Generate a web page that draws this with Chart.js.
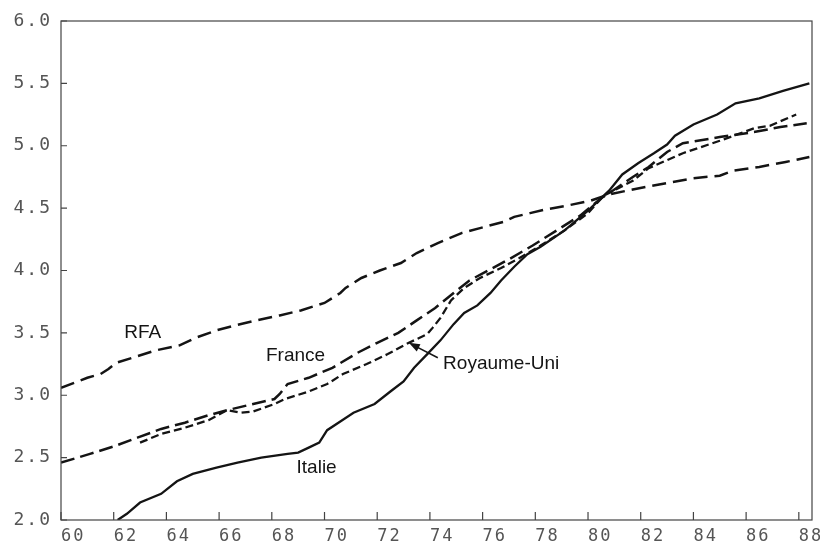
<!DOCTYPE html>
<html><head><meta charset="utf-8">
<script src="https://cdn.jsdelivr.net/npm/chart.js@4.4.1/dist/chart.umd.min.js"></script>
<style>html,body{margin:0;padding:0;background:#fff}#wrap{width:820px;height:549px;position:relative}</style>
</head><body><div id="wrap"><canvas id="c"></canvas></div>
<script>
// ---- data ----
const xTicks = [60,62,64,66,68,70,72,74,76,78,80,82,84,86,88];
const yTicks = [2.0,2.5,3.0,3.5,4.0,4.5,5.0,5.5,6.0];

const rfaYears  = [60.0,60.5,61.0,61.5,61.8,62.1,62.7,63.6,64.5,65.1,65.9,66.6,67.4,68.3,69.1,70.0,70.6,70.8,71.4,72.1,72.9,73.5,74.3,75.2,75.9,76.8,77.2,77.8,78.4,79.2,80.1,80.8,81.7,82.7,84.0,85.0,85.5,86.5,87.5,88.4];
const rfaValues = [3.06,3.10,3.14,3.17,3.21,3.26,3.30,3.36,3.40,3.46,3.52,3.56,3.60,3.64,3.68,3.74,3.82,3.86,3.94,4.00,4.06,4.14,4.22,4.30,4.34,4.39,4.43,4.46,4.49,4.52,4.56,4.61,4.65,4.69,4.74,4.76,4.80,4.83,4.87,4.91];

const franceYears  = [60.0,61.1,62.0,62.9,63.8,64.7,65.6,66.3,67.1,68.1,68.3,68.6,69.4,70.3,71.25,72.0,72.8,73.5,74.2,74.9,75.5,76.3,77.0,77.9,78.8,79.7,80.5,80.8,81.7,82.3,83.0,83.6,85.0,86.3,87.3,88.3];
const franceValues = [2.46,2.53,2.59,2.66,2.73,2.78,2.84,2.88,2.92,2.97,3.01,3.09,3.14,3.22,3.34,3.42,3.50,3.60,3.70,3.82,3.92,4.01,4.09,4.20,4.32,4.44,4.58,4.62,4.75,4.83,4.95,5.02,5.07,5.11,5.15,5.18];

const ukYears  = [63.0,63.8,64.7,65.6,66.3,66.8,67.3,68.1,68.5,69.4,70.1,70.7,71.6,72.4,73.1,73.9,74.1,74.4,74.8,75.3,75.9,76.7,77.4,78.2,79.1,80.0,80.6,81.7,82.3,83.6,85.0,86.3,86.9,87.9];
const ukValues = [2.62,2.69,2.74,2.80,2.88,2.86,2.87,2.93,2.97,3.03,3.09,3.17,3.25,3.33,3.41,3.49,3.54,3.62,3.76,3.86,3.94,4.02,4.10,4.20,4.32,4.46,4.60,4.72,4.82,4.94,5.04,5.14,5.16,5.25];

const italyYears  = [62.15,62.5,63.0,63.8,64.4,65.0,65.9,66.7,67.6,68.6,69.0,69.4,69.8,70.1,70.6,71.1,71.9,72.5,73.0,73.4,73.9,74.4,74.9,75.3,75.8,76.3,76.7,77.2,77.7,78.2,79.1,80.0,80.8,81.3,81.9,82.5,83.0,83.3,84.0,84.9,85.6,86.5,87.4,88.4];
const italyValues = [2.00,2.05,2.14,2.21,2.31,2.37,2.42,2.46,2.50,2.53,2.54,2.58,2.62,2.72,2.79,2.86,2.93,3.03,3.11,3.22,3.33,3.44,3.57,3.66,3.72,3.82,3.92,4.03,4.13,4.19,4.32,4.48,4.64,4.77,4.86,4.94,5.01,5.08,5.17,5.25,5.34,5.38,5.44,5.50];

// annotations in data coordinates
const noteTexts = ['RFA','France','Royaume-Uni','Italie'];
const noteX     = [63.1, 68.9, 74.5, 69.7];
const noteY     = [3.50, 3.32, 3.25, 2.42];
const noteAlign = ['center','center','left','center'];
const arrowFrom = [74.3, 3.30];
const arrowTo   = [73.2, 3.42];

const pts = (xs, ys) => xs.map((x, i) => ({x, y: ys[i]}));
const INK = '#141414';

const framePlugin = {
  id: 'frame',
  beforeDraw(chart) { chart.ctx.letterSpacing = '2px'; },
  afterDraw(chart) {
    const ctx = chart.ctx, a = chart.chartArea;
    const xs = chart.scales.x, ys = chart.scales.y;
    ctx.save();
    ctx.letterSpacing = '0px';
    ctx.strokeStyle = '#444';
    ctx.lineWidth = 1.2;
    ctx.strokeRect(a.left, a.top, a.right - a.left, a.bottom - a.top);
    ctx.beginPath();
    xTicks.forEach(v => { const p = xs.getPixelForValue(v); ctx.moveTo(p, a.bottom); ctx.lineTo(p, a.bottom - 8); });
    yTicks.forEach(v => { const p = ys.getPixelForValue(v); ctx.moveTo(a.left, p); ctx.lineTo(a.left + 6, p); });
    ctx.stroke();
    // labels
    ctx.fillStyle = INK;
    ctx.font = '19px "Liberation Sans", Arial, sans-serif';
    ctx.textBaseline = 'middle';
    noteTexts.forEach((t, i) => {
      ctx.textAlign = noteAlign[i];
      ctx.fillText(t, xs.getPixelForValue(noteX[i]), ys.getPixelForValue(noteY[i]));
    });
    // arrow
    const x1 = xs.getPixelForValue(arrowFrom[0]), y1 = ys.getPixelForValue(arrowFrom[1]);
    const x2 = xs.getPixelForValue(arrowTo[0]), y2 = ys.getPixelForValue(arrowTo[1]);
    const ang = Math.atan2(y2 - y1, x2 - x1);
    ctx.strokeStyle = INK; ctx.lineWidth = 1.6;
    ctx.beginPath(); ctx.moveTo(x1, y1); ctx.lineTo(x2 - 6 * Math.cos(ang), y2 - 6 * Math.sin(ang)); ctx.stroke();
    ctx.beginPath();
    ctx.moveTo(x2, y2);
    ctx.lineTo(x2 - 11 * Math.cos(ang) + 4 * Math.sin(ang), y2 - 11 * Math.sin(ang) - 4 * Math.cos(ang));
    ctx.lineTo(x2 - 11 * Math.cos(ang) - 4 * Math.sin(ang), y2 - 11 * Math.sin(ang) + 4 * Math.cos(ang));
    ctx.closePath(); ctx.fill();
    ctx.restore();
  }
};

const yTickFont = {family: '"DejaVu Sans Mono", monospace', size: 18};
const xTickFont = {family: '"DejaVu Sans Mono", monospace', size: 17};

new Chart(document.getElementById('c'), {
  type: 'line',
  data: {
    datasets: [
      {label: 'RFA', data: pts(rfaYears, rfaValues), borderColor: INK, borderWidth: 2.5, borderDash: [14, 7]},
      {label: 'France', data: pts(franceYears, franceValues), borderColor: INK, borderWidth: 2.5, borderDash: [14, 6]},
      {label: 'Royaume-Uni', data: pts(ukYears, ukValues), borderColor: INK, borderWidth: 2.3, borderDash: [8, 4]},
      {label: 'Italie', data: pts(italyYears, italyValues), borderColor: INK, borderWidth: 2.3}
    ]
  },
  options: {
    responsive: true,
    maintainAspectRatio: false,
    animation: false,
    elements: {point: {radius: 0, hoverRadius: 0}, line: {tension: 0, fill: false}},
    layout: {padding: {top: 21, right: 0, left: 0, bottom: 0}},
    plugins: {legend: {display: false}, tooltip: {enabled: false}},
    events: [],
    scales: {
      x: {
        type: 'linear', min: 60, max: 88.5,
        grid: {display: false, drawTicks: false},
        border: {display: false},
        afterBuildTicks: s => { s.ticks = xTicks.map(v => ({value: v})); },
        afterFit: s => { s.height = 29; s.paddingRight = 8; s.paddingLeft = 0; },
        ticks: {align: 'start', padding: 6, color: '#555', font: xTickFont, maxRotation: 0, autoSkip: false,
                callback: v => String(v)}
      },
      y: {
        type: 'linear', min: 2, max: 6,
        grid: {display: false, drawTicks: false},
        border: {display: false},
        afterBuildTicks: s => { s.ticks = yTicks.map(v => ({value: v})); },
        afterFit: s => { s.width = 61; },
        ticks: {padding: 9, color: '#555', font: yTickFont, callback: v => Number(v).toFixed(1)}
      }
    }
  },
  plugins: [framePlugin]
});
</script>
</body></html>
